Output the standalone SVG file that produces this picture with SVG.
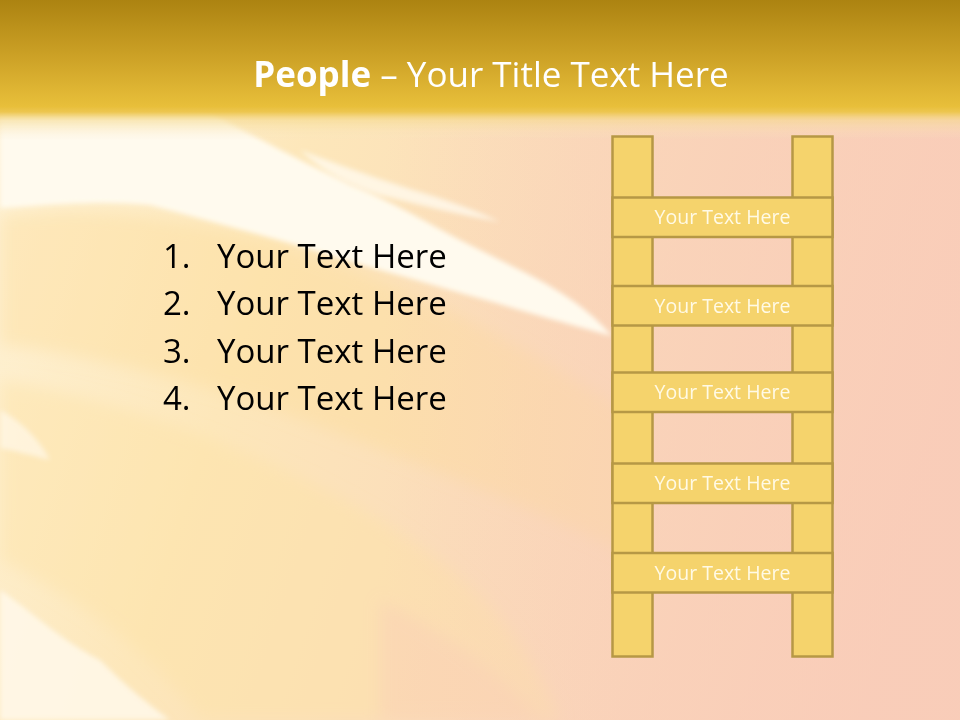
<svg xmlns="http://www.w3.org/2000/svg" width="960" height="720" viewBox="0 0 960 720">
  <defs>
    <linearGradient id="bgBase" x1="0" y1="100" x2="960" y2="420" gradientUnits="userSpaceOnUse">
      <stop offset="0" stop-color="#FEF2D6"/>
      <stop offset="0.3" stop-color="#FDE7BA"/>
      <stop offset="0.55" stop-color="#FBDDBA"/>
      <stop offset="1" stop-color="#F9CEBA"/>
    </linearGradient>
    <linearGradient id="header" x1="0" y1="0" x2="0" y2="140" gradientUnits="userSpaceOnUse">
      <stop offset="0" stop-color="#AC8311"/>
      <stop offset="0.4" stop-color="#CCA126"/>
      <stop offset="0.76" stop-color="#E8BF3A"/>
      <stop offset="0.8" stop-color="#EDC650"/>
      <stop offset="0.86" stop-color="#F5DA90" stop-opacity="0.6"/>
      <stop offset="1" stop-color="#FBEBCB" stop-opacity="0"/>
    </linearGradient>
    <linearGradient id="pinkFade" x1="0" y1="0" x2="960" y2="0" gradientUnits="userSpaceOnUse">
      <stop offset="0" stop-color="#F9CDB8" stop-opacity="0"/>
      <stop offset="0.4" stop-color="#F9CDB8" stop-opacity="0"/>
      <stop offset="0.65" stop-color="#F9CDB8" stop-opacity="0.45"/>
      <stop offset="1" stop-color="#F9CCB8" stop-opacity="0.7"/>
    </linearGradient>
    <filter id="soft" x="-10%" y="-10%" width="120%" height="120%">
      <feGaussianBlur stdDeviation="8"/>
    </filter>
    <filter id="softer" x="-10%" y="-10%" width="120%" height="120%">
      <feGaussianBlur stdDeviation="2.5"/>
    </filter>
  </defs>
  <style>
    .rail { fill: #F5D36C; stroke: #B69845; stroke-width: 2.5; }
    .rung { fill: #F5D36C; stroke: #B69845; stroke-width: 2.5; }
    .rungText { font-family: "Open Sans", "DejaVu Sans", sans-serif; font-size: 19.5px; fill: #FFFAE6; text-anchor: middle; }
    .list { font-family: "Open Sans", "Liberation Sans", sans-serif; font-size: 33px; fill: #000000; }
    .title { font-family: "Open Sans", "Liberation Sans", sans-serif; font-size: 35px; fill: #FFFFFF; }
  </style>

  <!-- background -->
  <g id="background">
    <rect x="0" y="0" width="960" height="720" fill="url(#bgBase)"/>
    <g filter="url(#soft)">
      <path d="M0,215 C120,200 260,230 380,280 C480,320 560,370 640,420 L640,560 C520,500 380,450 250,400 C150,370 60,350 0,345 Z" fill="#FCDC98" opacity="0.4"/>
      <path d="M0,380 C120,400 260,450 380,520 C460,570 520,620 560,720 L200,720 C150,650 80,600 0,560 Z" fill="#FCE3A6" opacity="0.45"/>
      <path d="M380,600 C440,630 500,670 540,720 L380,720 Z" fill="#F9CFB6" opacity="0.5"/>
    </g>
    <rect x="0" y="0" width="960" height="720" fill="url(#pinkFade)"/>
    <g filter="url(#softer)">
      <path d="M0,112 L210,112 C260,140 300,160 350,185 C400,205 430,225 470,245 L520,270 C560,290 590,310 612,336 C560,322 500,304 450,290 C400,275 350,262 300,246 C250,232 200,218 150,205 C100,200 50,204 0,208 Z" fill="#FFFAEE"/>
      <path d="M300,150 C340,165 380,180 430,195 C460,205 480,212 500,222 C460,215 420,205 380,195 C350,185 320,170 300,150 Z" fill="#FFFAEE" opacity="0.8"/>
      <path d="M0,590 C30,610 60,640 100,660 C130,690 150,705 170,720 L0,720 Z" fill="#FFF8EA" opacity="0.85"/>
      <path d="M0,410 C20,420 40,440 50,460 C30,455 10,450 0,448 Z" fill="#FFF8EA" opacity="0.7"/>
    </g>
    <rect x="0" y="0" width="960" height="140" fill="url(#header)"/>
  </g>

  <!-- title -->
  <g id="title">
    <text class="title" x="491" y="87" text-anchor="middle"><tspan font-weight="bold">People</tspan> – Your Title Text Here</text>
  </g>

  <!-- numbered list -->
  <g id="list">
    <text class="list" x="163" y="268">1.</text>
    <text class="list" x="217" y="268">Your Text Here</text>
    <text class="list" x="163" y="315">2.</text>
    <text class="list" x="217" y="315">Your Text Here</text>
    <text class="list" x="163" y="363">3.</text>
    <text class="list" x="217" y="363">Your Text Here</text>
    <text class="list" x="163" y="410">4.</text>
    <text class="list" x="217" y="410">Your Text Here</text>
  </g>

  <!-- ladder -->
  <g id="ladder">
    <g id="rails">
      <rect class="rail" x="612.5" y="136.5" width="40" height="520"/>
      <rect class="rail" x="792.5" y="136.5" width="40" height="520"/>
    </g>
    <g id="rung1">
      <rect class="rung" x="612.5" y="197.5" width="220" height="39.5"/>
      <text class="rungText" x="722.5" y="224">Your Text Here</text>
    </g>
    <g id="rung2">
      <rect class="rung" x="612.5" y="286" width="220" height="39.5"/>
      <text class="rungText" x="722.5" y="312.5">Your Text Here</text>
    </g>
    <g id="rung3">
      <rect class="rung" x="612.5" y="372.5" width="220" height="39.5"/>
      <text class="rungText" x="722.5" y="399">Your Text Here</text>
    </g>
    <g id="rung4">
      <rect class="rung" x="612.5" y="463.5" width="220" height="39.5"/>
      <text class="rungText" x="722.5" y="490">Your Text Here</text>
    </g>
    <g id="rung5">
      <rect class="rung" x="612.5" y="553" width="220" height="39.5"/>
      <text class="rungText" x="722.5" y="579.5">Your Text Here</text>
    </g>
  </g>
</svg>
